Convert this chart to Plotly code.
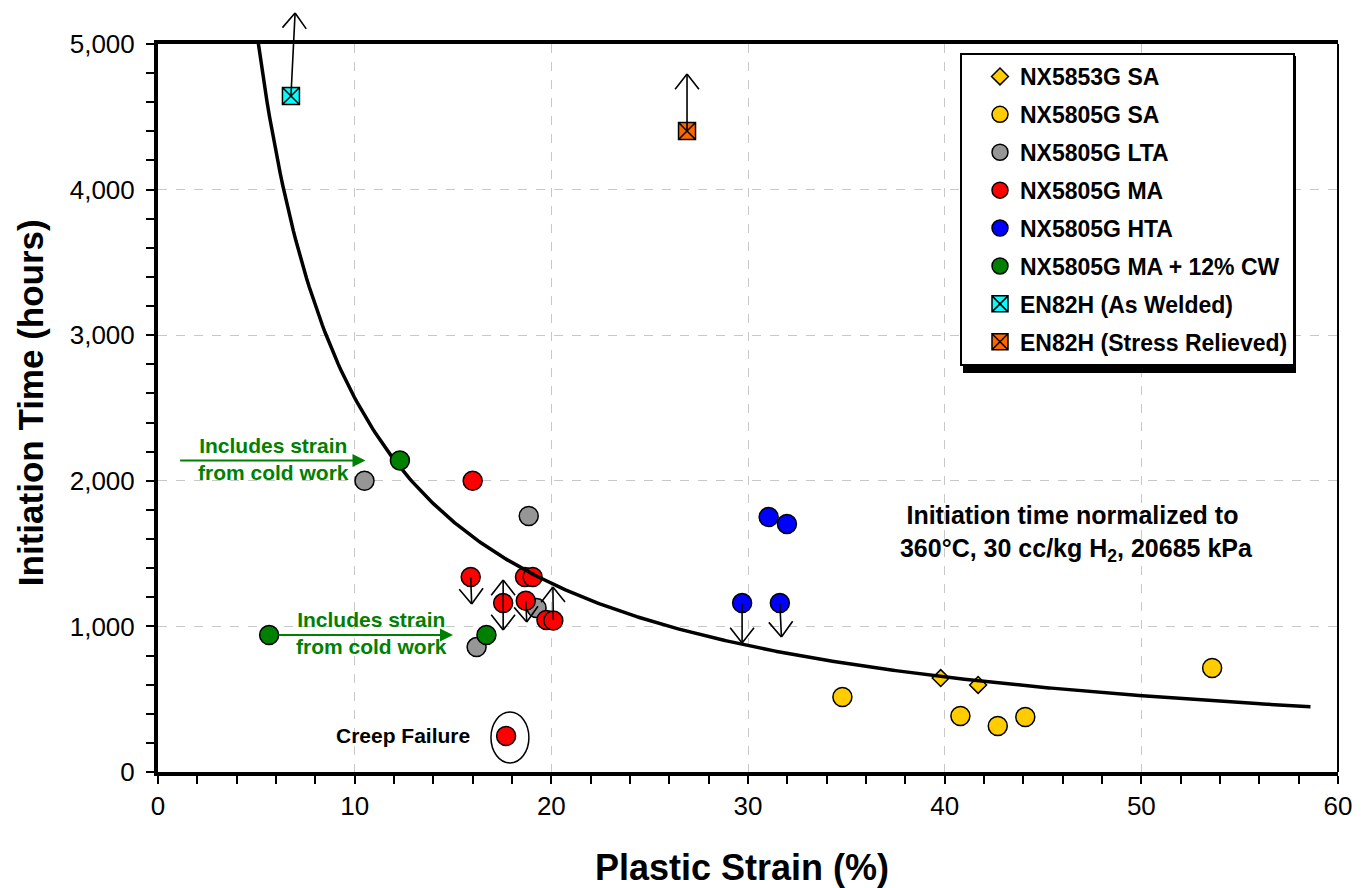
import math
import numpy as np
import plotly.graph_objects as go

# ---- measured data: plastic strain (%) vs. initiation time (hours) ----
nx5853g_sa_x = [39.8, 41.7]
nx5853g_sa_y = [645, 598]

nx5805g_sa_x = [34.8, 40.8, 42.7, 44.1, 53.6]
nx5805g_sa_y = [515, 385, 316, 378, 714]

nx5805g_lta_x = [10.5, 18.85, 16.2, 19.25]
nx5805g_lta_y = [2000, 1758, 858, 1126]

nx5805g_ma_x = [16.0, 15.9, 18.66, 19.05, 17.55, 18.7, 19.75, 20.1, 17.7]
nx5805g_ma_y = [2000, 1340, 1339, 1339, 1160, 1176, 1044, 1040, 247]

nx5805g_hta_x = [31.05, 31.98, 29.7, 31.62]
nx5805g_hta_y = [1751, 1703, 1160, 1160]

nx5805g_cw_x = [12.3, 5.65, 16.7]
nx5805g_cw_y = [2140, 941, 941]

en82h_aw_x = [6.76]
en82h_aw_y = [4643]

en82h_sr_x = [26.9]
en82h_sr_y = [4402]

# power-law trend line: t = A * strain^B
trend_coef = 25000.0
trend_exp = -0.988
trend_x_range = (5.0, 58.6)

# "greater than / less than" indicators: tail (measured point) -> head
bound_x_tail = [6.76, 26.9, 15.9, 18.7, 20.1, 29.7, 31.62]
bound_y_tail = [4643, 4402, 1340, 1176, 1040, 1160, 1160]
bound_x_tip = [6.97, 26.9, 15.95, 18.75, 20.08, 29.7, 31.7]
bound_y_tip = [5213, 4794, 1154, 1030, 1271, 886, 927]
# two-sided indicator (range of possible values)
range_x = 17.55
range_y = (1319, 975)

X_RANGE = (0, 60)
Y_RANGE = (0, 5000)
PLOT_W, PLOT_H = 1180, 728          # plotting area in pixels
MARGIN = dict(l=158, r=30, t=44, b=116)

FONT = "Liberation Sans, Arial, Helvetica, sans-serif"
EDGE = dict(color="black", width=1.5)

fig = go.Figure()

series = [
    ("NX5853G SA", nx5853g_sa_x, nx5853g_sa_y, "diamond", "#FFCC00", 13),
    ("NX5805G SA", nx5805g_sa_x, nx5805g_sa_y, "circle", "#FFCC00", 19),
    ("NX5805G LTA", nx5805g_lta_x, nx5805g_lta_y, "circle", "#969696", 19),
    ("NX5805G MA", nx5805g_ma_x, nx5805g_ma_y, "circle", "#FF0000", 19),
]
for i, (name, xs, ys, sym, col, sz) in enumerate(series):
    fig.add_trace(go.Scatter(
        x=xs, y=ys, mode="markers", name=name, legendgroup=f"g{i}",
        marker=dict(symbol=sym, color=col, size=sz, line=EDGE),
    ))

# trend line
tx = np.linspace(trend_x_range[0], trend_x_range[1], 400)
ty = trend_coef * tx ** trend_exp
fig.add_trace(go.Scatter(
    x=tx, y=ty, mode="lines", showlegend=False, hoverinfo="skip",
    line=dict(color="black", width=3.5),
))

series2 = [
    ("NX5805G HTA", nx5805g_hta_x, nx5805g_hta_y, "circle", "#0000FF", 19),
    ("NX5805G MA + 12% CW", nx5805g_cw_x, nx5805g_cw_y, "circle", "#008000", 19),
    ("EN82H (As Welded)", en82h_aw_x, en82h_aw_y, "square-x", "#00FFFF", 17),
    ("EN82H (Stress Relieved)", en82h_sr_x, en82h_sr_y, "square-x", "#FF6600", 17),
]
for i, (name, xs, ys, sym, col, sz) in enumerate(series2):
    fig.add_trace(go.Scatter(
        x=xs, y=ys, mode="markers", name=name, legendgroup=f"h{i}",
        marker=dict(symbol=sym, color=col, size=sz, line=EDGE),
    ))

annotations = []

# ---- thin open-V arrows, built from annotation line segments ----
HEAD_LEN = 20        # px
HEAD_ANGLE = 38      # degrees from the shaft
px_per_x = PLOT_W / (X_RANGE[1] - X_RANGE[0])
px_per_y = PLOT_H / (Y_RANGE[1] - Y_RANGE[0])


def to_paper(yv):
    return (yv - Y_RANGE[0]) / (Y_RANGE[1] - Y_RANGE[0])


def segment(x0, y0, x1, y1):
    # straight black line between two points (x in %, y in hours);
    # anchored at the second point, other end given as a pixel offset
    return dict(x=x1, y=to_paper(y1), xref="x", yref="paper",
                ax=(x0 - x1) * px_per_x, ay=-(y0 - y1) * px_per_y,
                axref="pixel", ayref="pixel",
                text="", font=dict(size=1), borderpad=0,
                showarrow=True, arrowhead=0, arrowwidth=1.6,
                arrowcolor="black", standoff=0, startstandoff=0)


def head(x_from, y_from, x_tip, y_tip):
    # V-shaped head at (x_tip, y_tip) pointing away from (x_from, y_from)
    dx = (x_tip - x_from) * px_per_x
    dy = (y_tip - y_from) * px_per_y
    n = math.hypot(dx, dy)
    ux, uy = dx / n, dy / n
    out = []
    for sgn in (1, -1):
        a = math.radians(HEAD_ANGLE) * sgn
        rx = ux * math.cos(a) - uy * math.sin(a)
        ry = ux * math.sin(a) + uy * math.cos(a)
        ex = x_tip - HEAD_LEN * rx / px_per_x
        ey = y_tip - HEAD_LEN * ry / px_per_y
        out.append(segment(ex, ey, x_tip, y_tip))
    return out


for x0, y0, x1, y1 in zip(bound_x_tail, bound_y_tail, bound_x_tip, bound_y_tip):
    annotations.append(segment(x0, y0, x1, y1))
    annotations += head(x0, y0, x1, y1)

annotations.append(segment(range_x, range_y[0], range_x, range_y[1]))
annotations += head(range_x, range_y[1], range_x, range_y[0])
annotations += head(range_x, range_y[0], range_x, range_y[1])

# ---- cold-work notes ----
GREEN = "#008000"
for (xa, xb, ya), (tx_, ty_) in [((1.1, 10.55, 2140), (5.85, 2150)),
                                 ((6.1, 15.0, 941), (10.85, 955))]:
    annotations.append(dict(
        x=xb, y=ya, ax=xa, ay=ya, xref="x", yref="y", axref="x", ayref="y",
        text="", font=dict(size=1), borderpad=0,
        showarrow=True, arrowhead=2, arrowsize=1.3, arrowwidth=2,
        arrowcolor=GREEN,
    ))
    annotations.append(dict(
        x=tx_, y=ty_, xref="x", yref="y", showarrow=False,
        text="Includes strain<br>from cold work",
        font=dict(family=FONT, size=21, color=GREEN, weight="bold"),
        align="center",
    ))

annotations += [
    dict(x=12.45, y=254, xref="x", yref="y", showarrow=False, text="Creep Failure",
         font=dict(family=FONT, size=21, color="black", weight="bold")),
    dict(x=46.5, y=1640, xref="x", yref="y", showarrow=False, align="center",
         text="Initiation time normalized to<br> 360°C, 30 cc/kg H<sub>2</sub>, 20685 kPa",
         font=dict(family=FONT, size=25, color="black", weight="bold")),
    dict(x=0.495, y=-0.1305, xref="paper", yref="paper", showarrow=False,
         xanchor="center", yanchor="middle",
         text="Plastic Strain (%)",
         font=dict(family=FONT, size=36, color="black", weight="bold")),
    dict(x=-0.1085, y=0.508, xref="paper", yref="paper", showarrow=False,
         xanchor="center", yanchor="middle",
         text="Initiation Time (hours)", textangle=-90,
         font=dict(family=FONT, size=35, color="black", weight="bold")),
]


def px_x(p):
    return (p - MARGIN["l"]) / PLOT_W


def px_y(p):
    return (MARGIN["t"] + PLOT_H - p) / PLOT_H


shapes = [
    # ring marking the creep-failure specimen
    dict(type="circle", xref="x", yref="y", x0=16.93, x1=18.86, y0=62, y1=412,
         line=dict(color="black", width=1.5)),
    # thin right-hand frame
    dict(type="line", xref="paper", yref="paper", x0=1, x1=1, y0=0, y1=1,
         line=dict(color="black", width=2)),
    # legend drop shadow
    dict(type="rect", xref="paper", yref="paper", layer="above",
         x0=px_x(963), x1=px_x(1296), y0=px_y(373), y1=px_y(56),
         fillcolor="black", line=dict(width=0)),
]

axis_common = dict(
    showline=True, linecolor="black", linewidth=4,
    ticks="outside", ticklen=8, tickwidth=2, tickcolor="black",
    showgrid=True, gridcolor="#c8c8c8", griddash="dash", gridwidth=1,
    zeroline=False,
    tickfont=dict(family=FONT, size=26, color="black"),
)

fig.update_layout(
    width=1368, height=888,
    margin=MARGIN,
    paper_bgcolor="white", plot_bgcolor="white",
    xaxis=dict(range=list(X_RANGE), dtick=10, tick0=0, mirror=True,
               minor=dict(dtick=2, ticks="outside", ticklen=8, tickwidth=2,
                          tickcolor="black", showgrid=False),
               **axis_common),
    yaxis=dict(range=list(Y_RANGE), dtick=1000, tick0=0, tickformat=",d",
               mirror=False, ticklabelstandoff=6,
               minor=dict(dtick=200, ticks="outside", ticklen=8, tickwidth=2,
                          tickcolor="black", showgrid=False),
               **axis_common),
    legend=dict(
        x=px_x(960), y=px_y(53), xanchor="left", yanchor="top",
        bgcolor="white", bordercolor="black", borderwidth=2,
        font=dict(family=FONT, size=23, color="black", weight="bold"),
        tracegroupgap=5, indentation=18,
    ),
    annotations=annotations,
    shapes=shapes,
    showlegend=True,
)

fig.write_html("out.html")
